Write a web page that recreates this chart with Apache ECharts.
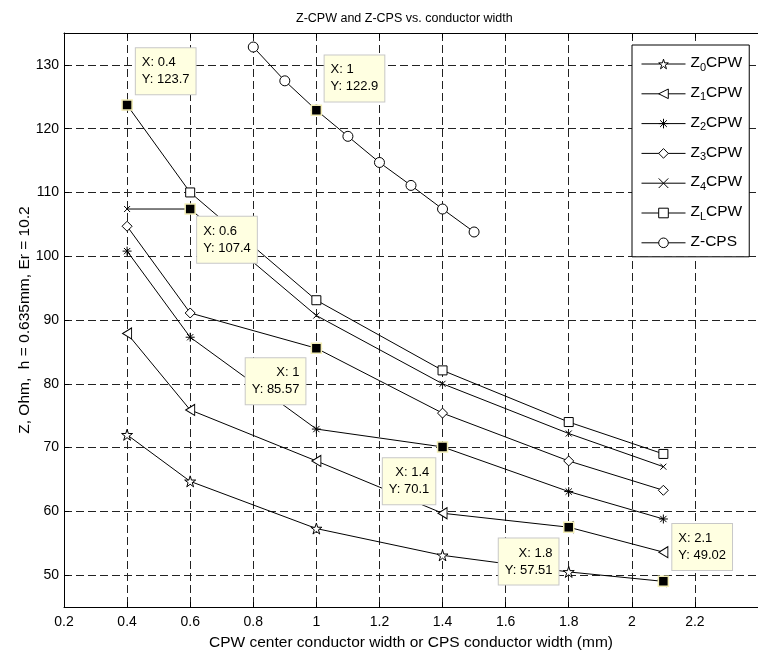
<!DOCTYPE html>
<html>
<head>
<meta charset="utf-8">
<script src="https://cdn.jsdelivr.net/npm/echarts@6/dist/echarts.min.js"></script>
<style>
  html, body { margin: 0; padding: 0; background: #fff; }
  #chart { width: 758px; height: 656px; }
</style>
</head>
<body>
<div id="chart"></div>
<script>
// conductor widths (mm)
const cpwWidth = [0.4, 0.6, 1.0, 1.4, 1.8, 2.1];
const cpsWidth = [0.8, 0.9, 1.0, 1.1, 1.2, 1.3, 1.4, 1.5];

// impedances (Ohm)
const z0Cpw = [72.0, 64.7, 57.3, 53.1, 50.5, 49.02];
const z1Cpw = [87.9, 75.9, 67.9, 59.7, 57.51, 53.6];
const z2Cpw = [100.8, 87.3, 72.9, 70.1, 63.1, 58.8];
const z3Cpw = [104.7, 91.1, 85.57, 75.4, 67.9, 63.3];
const z4Cpw = [107.4, 107.4, 90.7, 80.0, 72.2, 67.0];
const zLCpw = [123.7, 110.0, 93.1, 82.1, 74.0, 69.0];
const zCps = [132.8, 127.5, 122.9, 118.8, 114.7, 111.1, 107.4, 103.8];

// data tips (x, y)
const tipX = [0.4, 1, 0.6, 1, 1.4, 1.8, 2.1];
const tipY = [123.7, 122.9, 107.4, 85.57, 70.1, 57.51, 49.02];

const seriesNames = ['Z0CPW', 'Z1CPW', 'Z2CPW', 'Z3CPW', 'Z4CPW', 'ZLCPW', 'Z-CPS'];

// where each tip box sits relative to its marker
const tipPlace = [
  {pos: [14.5, -51], align: 'left'},
  {pos: [14, -49], align: 'left'},
  {pos: [12.7, 13.4], align: 'left'},
  {pos: [-5.2, 15.7], align: 'right'},
  {pos: [-1.5, 17.2], align: 'right'},
  {pos: [-4.5, 17], align: 'right'},
  {pos: [14.7, -51.5], align: 'left'}
];

const STAR = 'path://M5,0 L6.12,3.46 L9.76,3.45 L6.81,5.59 L7.94,9.05 L5,6.9 L2.06,9.05 L3.19,5.59 L0.24,3.45 L3.88,3.46 Z';
const TRI_LEFT = 'path://M0,5 L10,0 L10,10 Z';
const ASTERISK = 'path://M5,0 L5,10 M0,5 L10,5 M1.5,1.5 L8.5,8.5 M1.5,8.5 L8.5,1.5';
const CROSS = 'path://M0,0 L10,10 M0,10 L10,0';

const pair = (xs, ys) => xs.map((x, i) => [x, ys[i]]);

function lineSeries(name, xs, ys, symbol, size) {
  return {
    name: name,
    type: 'line',
    data: pair(xs, ys),
    symbol: symbol,
    symbolSize: size,
    showSymbol: true,
    lineStyle: {color: '#000', width: 1},
    itemStyle: {color: '#fff', borderColor: '#000', borderWidth: 1},
    z: 3
  };
}

const font = "'Liberation Sans', Arial, Helvetica, sans-serif";

const option = {
  animation: false,
  backgroundColor: '#fff',
  title: {
    text: 'Z-CPW and Z-CPS vs. conductor width',
    left: 291,
    top: 7,
    textStyle: {fontFamily: font, fontSize: 12.5, fontWeight: 'normal', color: '#000'}
  },
  grid: {left: 64, top: 33, right: -10, bottom: 49},
  legend: {
    data: seriesNames,
    orient: 'vertical',
    left: 632,
    top: 45,
    itemWidth: 44,
    itemHeight: 12,
    itemGap: 11.8,
    padding: [10, 7, 5, 9],
    backgroundColor: '#fff',
    borderColor: '#000',
    borderWidth: 1,
    borderRadius: 0,
    z: 10,
    itemStyle: {borderWidth: 1, borderColor: '#000', color: '#fff'},
    lineStyle: {width: 1, color: '#000'},
    formatter: function (name) {
      const m = name.match(/^Z(\d|L)CPW$/);
      if (m) return '{m|Z}{sub|' + m[1] + '}{m|CPW}';
      return '{m|' + name + '}{sub| }';
    },
    textStyle: {
      fontFamily: font,
      color: '#000',
      rich: {
        m: {fontFamily: font, fontSize: 15.5, lineHeight: 18, verticalAlign: 'top', color: '#000'},
        sub: {fontFamily: font, fontSize: 11, lineHeight: 16, verticalAlign: 'bottom', color: '#000'}
      }
    }
  },
  xAxis: [{
    type: 'value',
    min: 0.2,
    max: 2.4,
    interval: 0.2,
    name: 'CPW center conductor width or CPS conductor width (mm)',
    nameLocation: 'middle',
    nameGap: 28,
    nameTextStyle: {fontFamily: font, fontSize: 15.5, color: '#000'},
    axisLine: {onZero: false, lineStyle: {color: '#000', width: 1}},
    axisTick: {inside: true, length: 5, lineStyle: {color: '#000'}},
    axisLabel: {fontFamily: font, fontSize: 14, color: '#000', margin: 8, showMaxLabel: false},
    splitLine: {show: true, lineStyle: {color: '#222', type: [8, 4], width: 1}}
  }, {
    type: 'value',
    position: 'top',
    min: 0.2,
    max: 2.4,
    interval: 0.2,
    axisLine: {onZero: false, lineStyle: {color: '#000', width: 1}},
    axisTick: {inside: true, length: 5, lineStyle: {color: '#000'}},
    axisLabel: {show: false},
    splitLine: {show: false}
  }],
  yAxis: {
    type: 'value',
    min: 45,
    max: 135,
    splitNumber: 9,
    minInterval: 10,
    maxInterval: 10,
    name: 'Z, Ohm,  h = 0.635mm, Er = 10.2',
    nameLocation: 'middle',
    nameGap: 31,
    nameMoveOverlap: false,
    nameTextStyle: {fontFamily: font, fontSize: 15.5, color: '#000'},
    axisLine: {show: true, onZero: false, lineStyle: {color: '#000', width: 1}},
    axisTick: {show: true, inside: true, length: 5, lineStyle: {color: '#000'}},
    axisLabel: {fontFamily: font, fontSize: 14, color: '#000', margin: 5, showMinLabel: false, showMaxLabel: false},
    splitLine: {show: true, lineStyle: {color: '#222', type: [8, 4], width: 1}}
  },
  series: [
    lineSeries('Z0CPW', cpwWidth, z0Cpw, STAR, 11),
    lineSeries('Z1CPW', cpwWidth, z1Cpw, TRI_LEFT, [9, 11]),
    lineSeries('Z2CPW', cpwWidth, z2Cpw, ASTERISK, 9),
    lineSeries('Z3CPW', cpwWidth, z3Cpw, 'diamond', 10),
    lineSeries('Z4CPW', cpwWidth, z4Cpw, CROSS, 6),
    lineSeries('ZLCPW', cpwWidth, zLCpw, 'rect', 9),
    lineSeries('Z-CPS', cpsWidth, zCps, 'circle', 10),
    {
      name: 'tips',
      type: 'scatter',
      z: 5,
      symbol: 'rect',
      symbolSize: 10,
      itemStyle: {color: '#000', borderColor: '#f2edb5', borderWidth: 1.5, opacity: 1},
      data: tipX.map((x, i) => ({
        value: [x, tipY[i]],
        label: {position: tipPlace[i].pos, align: tipPlace[i].align}
      })),
      label: {
        show: true,
        opacity: 1,
        formatter: p => 'X: ' + p.value[0] + '\nY: ' + p.value[1],
        fontFamily: font,
        fontSize: 13,
        lineHeight: 17,
        color: '#000',
        backgroundColor: '#ffffe1',
        borderColor: '#c8c8c8',
        borderWidth: 1,
        padding: [6, 6, 6, 6]
      }
    }
  ]
};

const chart = echarts.init(document.getElementById('chart'), null, {renderer: 'canvas', devicePixelRatio: 1});
chart.setOption(option);
</script>
</body>
</html>
